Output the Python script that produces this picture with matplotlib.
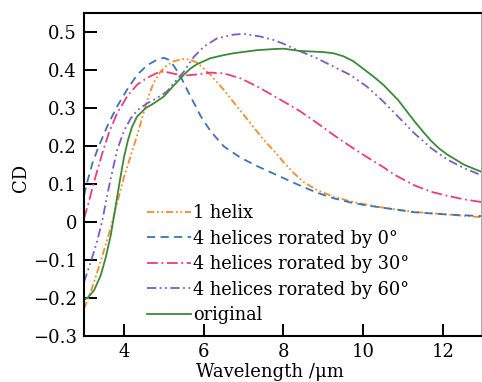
import matplotlib
matplotlib.use("Agg")
import matplotlib.pyplot as plt

# wavelength (um) / CD values
x_helix = [3.0, 3.17, 3.33, 3.5, 3.67, 3.83, 4.0, 4.17, 4.33, 4.5, 4.62, 4.75, 4.92, 5.08, 5.25, 5.5,
           5.67, 5.83, 6.0, 6.17, 6.5, 6.83, 7.17, 7.5, 7.83, 8.0, 8.25, 8.5, 8.83, 9.25, 9.67, 10.08,
           10.5, 11.28, 12.12, 12.95]
y_helix = [-0.228, -0.184, -0.132, -0.075, -0.015, 0.05, 0.118, 0.175, 0.228, 0.29, 0.333, 0.368, 0.397,
           0.413, 0.424, 0.43, 0.428, 0.42, 0.405, 0.388, 0.349, 0.305, 0.261, 0.217, 0.18, 0.158, 0.13,
           0.106, 0.085, 0.067, 0.055, 0.046, 0.038, 0.027, 0.02, 0.013]

x_rot0 = [3.0, 3.08, 3.21, 3.37, 3.58, 3.83, 4.08, 4.33, 4.58, 4.83, 5.0, 5.12, 5.25, 5.42, 5.58, 5.75,
          5.92, 6.17, 6.5, 6.92, 7.33, 7.75, 8.0, 8.42, 8.83, 9.25, 9.67, 10.08, 10.5, 11.28, 12.12, 12.95]
y_rot0 = [0.07, 0.105, 0.155, 0.2, 0.252, 0.305, 0.349, 0.388, 0.413, 0.428, 0.433, 0.428, 0.412, 0.384,
          0.35, 0.315, 0.28, 0.24, 0.2, 0.17, 0.148, 0.128, 0.116, 0.096, 0.078, 0.063, 0.052, 0.044,
          0.038, 0.026, 0.02, 0.016]

x_rot30 = [3.0, 3.12, 3.25, 3.46, 3.62, 3.83, 4.08, 4.33, 4.58, 4.83, 5.0, 5.25, 5.5, 5.83, 6.17, 6.5,
           6.92, 7.33, 7.75, 8.0, 8.42, 8.83, 9.25, 9.67, 10.08, 10.5, 10.78, 11.28, 11.7, 12.12, 12.53, 12.95]
y_rot30 = [0.009, 0.053, 0.106, 0.182, 0.234, 0.287, 0.331, 0.362, 0.38, 0.393, 0.397, 0.391, 0.386,
           0.389, 0.394, 0.392, 0.379, 0.358, 0.333, 0.318, 0.292, 0.262, 0.23, 0.2, 0.172, 0.145, 0.125,
           0.097, 0.08, 0.069, 0.06, 0.053]

x_rot60 = [3.0, 3.17, 3.33, 3.46, 3.58, 3.67, 3.83, 4.0, 4.17, 4.33, 4.58, 4.83, 5.08, 5.25, 5.5, 5.75,
           6.0, 6.33, 6.75, 7.0, 7.42, 7.75, 8.0, 8.42, 8.83, 9.25, 9.67, 10.08, 10.5, 10.87, 11.28, 11.7,
           12.12, 12.53, 12.95]
y_rot60 = [-0.158, -0.105, -0.05, 0.005, 0.07, 0.115, 0.19, 0.24, 0.273, 0.294, 0.313, 0.327, 0.344,
           0.366, 0.396, 0.435, 0.462, 0.484, 0.494, 0.496, 0.489, 0.48, 0.47, 0.45, 0.432, 0.41, 0.388,
           0.358, 0.318, 0.278, 0.234, 0.195, 0.164, 0.142, 0.124]

x_orig = [3.0, 3.1, 3.25, 3.42, 3.54, 3.67, 3.79, 3.9, 4.0, 4.1, 4.2, 4.33, 4.54, 4.75, 5.0, 5.25, 5.5,
          5.67, 5.83, 6.17, 6.5, 6.75, 7.33, 7.75, 8.0, 8.42, 9.0, 9.25, 9.5, 9.75, 9.95, 10.25, 10.5,
          10.87, 11.28, 11.5, 11.7, 11.9, 12.12, 12.53, 12.95]
y_orig = [-0.205, -0.198, -0.18, -0.14, -0.095, -0.035, 0.04, 0.11, 0.17, 0.215, 0.25, 0.278, 0.3, 0.313,
          0.331, 0.36, 0.388, 0.405, 0.416, 0.432, 0.44, 0.445, 0.453, 0.456, 0.457, 0.451, 0.448, 0.445,
          0.437, 0.424, 0.408, 0.384, 0.362, 0.322, 0.266, 0.238, 0.214, 0.194, 0.177, 0.151, 0.133]

labels = ["1 helix", "4 helices rorated by 0°", "4 helices rorated by 30°",
          "4 helices rorated by 60°", "original"]

plt.rcParams["font.family"] = ["DejaVu Serif"]

fig = plt.figure(figsize=(4.82, 3.82), dpi=100)
ax = fig.add_axes([84 / 482, 1 - 336 / 382, 397 / 482, 323 / 382])

lw = 1.3
ax.plot(x_helix, y_helix, color="#f98b2e", lw=lw, ls=(0, (4, 1.5, 1, 1.5, 1, 1.5)), label=labels[0])
ax.plot(x_rot0, y_rot0, color="#3a74b8", lw=lw, ls=(0, (4.5, 3)), label=labels[1])
ax.plot(x_rot30, y_rot30, color="#ec3c78", lw=lw, ls=(0, (6, 2, 1, 2)), label=labels[2])
ax.plot(x_rot60, y_rot60, color="#7a5cc6", lw=lw, ls=(0, (5, 2, 1, 2, 1, 2)), label=labels[3])
ax.plot(x_orig, y_orig, color="#3a8a3a", lw=lw, ls="-", label=labels[4])

ax.set_xlim(3.0, 12.95)
ax.set_ylim(-0.3, 0.551)
ax.set_xticks([4, 6, 8, 10, 12])
ax.set_yticks([-0.3, -0.2, -0.1, 0, 0.1, 0.2, 0.3, 0.4, 0.5])
ax.set_yticklabels(["\u22120.3", "\u22120.2", "\u22120.1", "0", "0.1", "0.2", "0.3", "0.4", "0.5"])
ax.tick_params(direction="in", length=9, width=1.4, labelsize=13, pad=5)
for s in ax.spines.values():
    s.set_linewidth(1.5)
ax.spines["right"].set_linewidth(0.6)
ax.spines["right"].set_color("#999999")

ax.set_xlabel("Wavelength /\u03bcm", fontsize=13)
ax.set_ylabel("CD", fontsize=13)
ax.xaxis.set_label_coords(0.468, -0.083)
ax.yaxis.set_label_coords(-0.135, 0.49)

ax.legend(loc="upper left", bbox_to_anchor=(0.158, 0.408), frameon=False, fontsize=12.8,
          handlelength=2.5, handletextpad=0.1, labelspacing=0.42, borderpad=0, borderaxespad=0)

fig.savefig("out.png", dpi=100)
